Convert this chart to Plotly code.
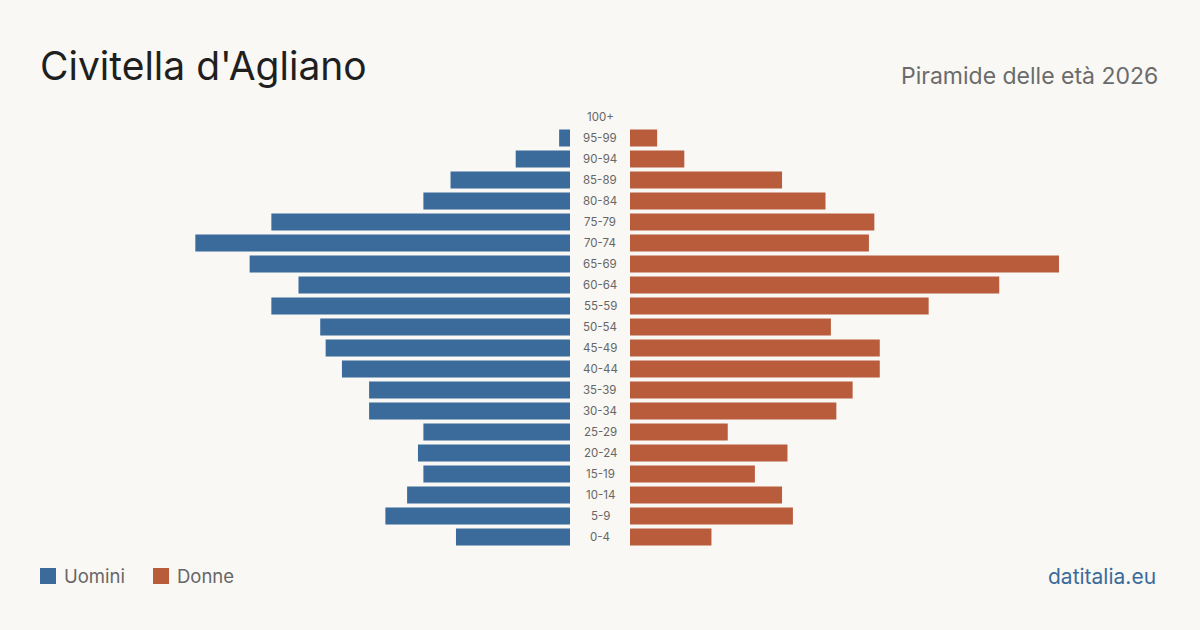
import plotly.graph_objects as go

ages = ["0-4", "5-9", "10-14", "15-19", "20-24", "25-29", "30-34", "35-39", "40-44",
        "45-49", "50-54", "55-59", "60-64", "65-69", "70-74", "75-79", "80-84",
        "85-89", "90-94", "95-99", "100+"]
uomini = [21, 34, 30, 27, 28, 27, 37, 37, 42, 45, 46, 55, 50, 59, 69, 55, 27, 22, 10, 2, 0]
donne = [15, 30, 28, 23, 29, 18, 38, 41, 46, 46, 37, 55, 68, 79, 44, 45, 36, 28, 10, 5, 0]

title = "Civitella d'Agliano"
subtitle = "Piramide delle età 2026"
source = "datitalia.eu"

BLUE = "#3b6b9b"
ORANGE = "#b95c3c"
BG = "#f9f8f4"
FONT = "Inter"

W, H = 1200, 630
xmax = 540 / 5.43

fig = go.Figure()
fig.add_trace(go.Bar(y=ages, x=uomini, orientation="h", marker=dict(color=BLUE, line=dict(width=0)),
                     name="Uomini", xaxis="x", yaxis="y", showlegend=False))
fig.add_trace(go.Bar(y=ages, x=donne, orientation="h", marker=dict(color=ORANGE, line=dict(width=0)),
                     name="Donne", xaxis="x2", yaxis="y2", showlegend=False))

ytop = 106.5
ybot = 547.5
ydom = [1 - ybot / H, 1 - ytop / H]

axis_common = dict(showgrid=False, zeroline=False, showticklabels=False, showline=False, ticks="")
fig.update_layout(
    width=W, height=H,
    margin=dict(l=0, r=0, t=0, b=0),
    paper_bgcolor=BG, plot_bgcolor=BG,
    bargap=4 / 21,
    font=dict(family=FONT),
    xaxis=dict(domain=[30 / W, 570 / W], range=[xmax, 0], **axis_common),
    xaxis2=dict(domain=[630 / W, 1170 / W], range=[0, xmax], **axis_common),
    yaxis=dict(domain=ydom, anchor="x", type="category", categoryorder="array", categoryarray=ages,
               range=[-0.5, len(ages) - 0.5], **axis_common),
    yaxis2=dict(domain=ydom, anchor="x2", type="category", categoryorder="array", categoryarray=ages,
                range=[-0.5, len(ages) - 0.5], matches="y", **axis_common),
)

annotations = []
for a in ages:
    annotations.append(dict(x=0.5, xref="paper", y=a, yref="y", text=a, showarrow=False,
                            xanchor="center", yanchor="middle",
                            font=dict(size=11.5, color="#666666", family=FONT)))

annotations.append(dict(x=38 / W, y=1 - 66 / H, xref="paper", yref="paper", text=title,
                        showarrow=False, xanchor="left", yanchor="middle",
                        font=dict(size=39, color="#1f1f1f", family=FONT)))
annotations.append(dict(x=1160 / W, y=1 - 76 / H, xref="paper", yref="paper", text=subtitle,
                        showarrow=False, xanchor="right", yanchor="middle",
                        font=dict(size=23, color="#6b6b6b", family=FONT)))
annotations.append(dict(x=1158 / W, y=1 - 576 / H, xref="paper", yref="paper", text=source,
                        showarrow=False, xanchor="right", yanchor="middle",
                        font=dict(size=21, color="#3b6b9b", family=FONT)))

legend_items = [("Uomini", BLUE, 40), ("Donne", ORANGE, 153)]
shapes = []
for label, col, x0 in legend_items:
    shapes.append(dict(type="rect", xref="paper", yref="paper",
                       x0=x0 / W, x1=(x0 + 16) / W, y0=1 - 584 / H, y1=1 - 568 / H,
                       fillcolor=col, line=dict(width=0)))
    annotations.append(dict(x=(x0 + 22) / W, y=1 - 576 / H, xref="paper", yref="paper", text=label,
                            showarrow=False, xanchor="left", yanchor="middle",
                            font=dict(size=18.5, color="#666666", family=FONT)))

fig.update_layout(annotations=annotations, shapes=shapes)
fig.write_html("out.html")
